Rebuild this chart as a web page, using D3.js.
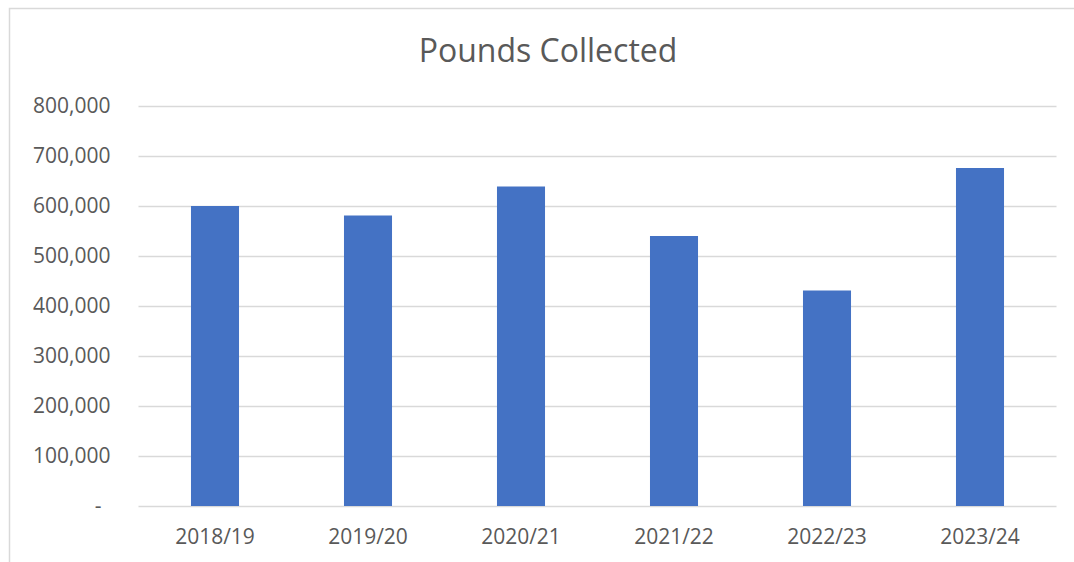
<!DOCTYPE html>
<html>
<head>
<meta charset="utf-8">
<script src="https://cdn.jsdelivr.net/npm/d3@7"></script>
<style>
  html, body { margin: 0; padding: 0; background: #fff; }
  svg { display: block; }
  text { font-family: "Open Sans", "Noto Sans", sans-serif; fill: #595959; }
</style>
</head>
<body>
<svg id="chart" width="1074" height="562"></svg>
<script>
const title = "Pounds Collected";
const categories = ["2018/19", "2019/20", "2020/21", "2021/22", "2022/23", "2023/24"];
const values = [600000, 581000, 639000, 540000, 431000, 676000];
const yTicks = [0, 100000, 200000, 300000, 400000, 500000, 600000, 700000, 800000];

const svg = d3.select("#chart");
const W = 1074, H = 562;
const margin = { left: 138.5, right: 17.5, top: 106, bottom: 56 };

// chart border
svg.append("rect")
  .attr("x", 9.5).attr("y", 8.5)
  .attr("width", W + 20).attr("height", H + 20)
  .attr("fill", "#fff").attr("stroke", "#D9D9D9").attr("stroke-width", 1.5);

const x = d3.scaleBand()
  .domain(categories)
  .range([margin.left, W - margin.right])
  .paddingInner(0.686)
  .paddingOuter(0.343);

const y = d3.scaleLinear()
  .domain([0, 800000])
  .range([H - margin.bottom, margin.top]);

// gridlines
const grid = d3.axisLeft(y).tickValues(yTicks)
  .tickSize(-(W - margin.right - margin.left)).tickFormat("");
const gG = svg.append("g").attr("transform", `translate(${margin.left},0)`).call(grid);
gG.select(".domain").remove();
gG.selectAll("line").attr("stroke", "#D9D9D9").attr("stroke-width", 1.5);

// bars
svg.append("g").selectAll("rect").data(values).join("rect")
  .attr("x", (d, i) => x(categories[i]))
  .attr("width", x.bandwidth())
  .attr("y", d => y(d))
  .attr("height", d => y(0) - y(d))
  .attr("fill", "#4472C4");

// y axis labels
const fmt = d3.format(",");
const yAxis = d3.axisLeft(y).tickValues(yTicks)
  .tickSize(0).tickPadding(28)
  .tickFormat(d => d === 0 ? "-" : fmt(d));
const yG = svg.append("g").attr("transform", `translate(${margin.left},0)`).call(yAxis);
yG.select(".domain").remove();
yG.selectAll("text")
  .attr("font-family", "Open Sans").attr("font-size", 21).attr("fill", "#595959")
  .attr("dx", d => d === 0 ? -9 : 0);

// x axis labels
const xAxis = d3.axisBottom(x).tickSize(0).tickPadding(23);
const xG = svg.append("g").attr("transform", `translate(0,${H - margin.bottom})`).call(xAxis);
xG.select(".domain").remove();
xG.selectAll("text")
  .attr("font-family", "Open Sans").attr("font-size", 21).attr("fill", "#595959");

// title
svg.append("text")
  .attr("x", 548).attr("y", 62)
  .attr("text-anchor", "middle")
  .attr("font-size", 32)
  .text(title);
</script>
</body>
</html>
